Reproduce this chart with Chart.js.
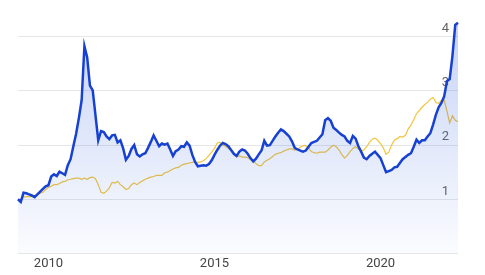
<!DOCTYPE html>
<html>
<head>
<meta charset="utf-8">
<script src="https://cdn.jsdelivr.net/npm/chart.js@4/dist/chart.umd.min.js"></script>
<style>
    html, body { margin: 0; padding: 0; background: #ffffff; }
</style>
</head>
<body>
<canvas id="priceChart" width="485" height="275"></canvas>
<script>
// Monthly points, Feb 2009 .. May 2022
var startYear = 2009;
var startMonth = 2;
var monthCount = 160;
var months = [];
for (var i = 0; i < monthCount; i++) {
    var m = startMonth - 1 + i;
    var y = startYear + Math.floor(m / 12);
    var mm = (m % 12) + 1;
    months.push(y + '-' + (mm < 10 ? '0' + mm : mm));
}

// Blue series (thick line with fill)
var blueValues = [
    1.00, 0.95, 1.12, 1.11, 1.09, 1.07, 1.04, 1.09, 1.14, 1.19, 1.24, 1.26,
    1.42, 1.46, 1.43, 1.51, 1.48, 1.45, 1.63, 1.74, 1.98, 2.21, 2.50, 2.83,
    3.83, 3.62, 3.10, 3.01, 2.55, 2.09, 2.26, 2.24, 2.16, 2.11, 2.18, 2.19,
    2.05, 2.09, 1.94, 1.73, 1.80, 1.93, 2.00, 1.83, 1.79, 1.83, 1.85, 1.95,
    2.06, 2.18, 2.08, 1.98, 2.03, 2.01, 2.03, 1.92, 1.80, 1.89, 1.92, 1.98,
    1.97, 2.05, 1.99, 1.82, 1.69, 1.61, 1.62, 1.63, 1.62, 1.65, 1.72, 1.82,
    1.91, 1.99, 2.04, 2.02, 1.98, 1.91, 1.84, 1.80, 1.88, 1.92, 1.90, 1.84,
    1.76, 1.70, 1.75, 1.83, 1.90, 2.08, 1.99, 2.00, 2.08, 2.16, 2.23, 2.29,
    2.26, 2.21, 2.16, 2.07, 1.95, 1.92, 1.90, 1.88, 1.90, 1.97, 2.04, 2.06,
    2.08, 2.14, 2.20, 2.46, 2.50, 2.45, 2.32, 2.28, 2.23, 2.19, 2.16, 2.08,
    2.04, 2.17, 2.12, 1.98, 1.88, 1.77, 1.74, 1.80, 1.84, 1.88, 1.82, 1.76,
    1.63, 1.50, 1.52, 1.54, 1.59, 1.60, 1.67, 1.74, 1.78, 1.82, 1.85, 1.97,
    2.10, 2.04, 2.09, 2.09, 2.16, 2.22, 2.38, 2.56, 2.70, 2.78, 2.90, 3.18,
    3.22, 3.65, 4.22, 4.26
];

// Gold series (thin line)
var goldValues = [
    1.00, 0.98, 1.04, 1.05, 1.05, 1.05, 1.04, 1.08, 1.11, 1.13, 1.18, 1.22,
    1.24, 1.27, 1.27, 1.29, 1.32, 1.33, 1.36, 1.37, 1.38, 1.39, 1.39, 1.37,
    1.39, 1.37, 1.40, 1.41, 1.38, 1.27, 1.13, 1.11, 1.15, 1.21, 1.31, 1.30,
    1.33, 1.27, 1.23, 1.18, 1.20, 1.27, 1.30, 1.27, 1.31, 1.34, 1.37, 1.39,
    1.41, 1.42, 1.44, 1.44, 1.44, 1.49, 1.50, 1.53, 1.56, 1.58, 1.59, 1.63,
    1.65, 1.66, 1.67, 1.68, 1.69, 1.68, 1.69, 1.71, 1.75, 1.81, 1.87, 1.94,
    2.04, 2.05, 2.00, 1.98, 1.94, 1.91, 1.82, 1.79, 1.80, 1.78, 1.78, 1.77,
    1.73, 1.71, 1.66, 1.62, 1.62, 1.69, 1.72, 1.75, 1.79, 1.83, 1.85, 1.86,
    1.89, 1.91, 1.93, 1.93, 1.91, 1.92, 1.96, 1.99, 1.99, 1.95, 1.88, 1.86,
    1.85, 1.87, 1.87, 1.87, 1.91, 1.96, 2.00, 1.97, 1.91, 1.83, 1.76, 1.81,
    1.88, 1.94, 1.97, 1.93, 1.90, 1.91, 1.97, 2.05, 2.11, 2.13, 2.09, 2.03,
    1.95, 1.83, 1.87, 2.00, 2.09, 2.12, 2.16, 2.15, 2.18, 2.30, 2.37, 2.47,
    2.58, 2.64, 2.70, 2.75, 2.79, 2.85, 2.88, 2.79, 2.77, 2.83, 2.83, 2.63,
    2.41, 2.54, 2.46, 2.43
];

var xTickLabels = ['2010', '2015', '2020'];
var yTickValues = [0, 1, 2, 3, 4];

document.addEventListener('DOMContentLoaded', function () {
    initializePriceChart();
});

function initializePriceChart() {
    var ctx = document.getElementById('priceChart').getContext('2d');

    // vertical gradient under the blue line
    function blueFill(context) {
        var chart = context.chart;
        var area = chart.chartArea;
        if (!area) return 'rgba(40, 90, 220, 0.1)';
        var g = chart.ctx.createLinearGradient(0, area.top, 0, area.bottom);
        g.addColorStop(0, 'rgba(40, 90, 220, 0.27)');
        g.addColorStop(1, 'rgba(40, 90, 220, 0.02)');
        return g;
    }

    var priceChart = new Chart(ctx, {
        type: 'line',
        data: {
            labels: months,
            datasets: [{
                label: 'Blue',
                data: blueValues,
                borderColor: '#1741d2',
                borderWidth: 2.5,
                backgroundColor: blueFill,
                fill: 'origin',
                pointRadius: 0,
                tension: 0
            }, {
                label: 'Gold',
                data: goldValues,
                borderColor: '#f1c53e',
                borderWidth: 1.2,
                fill: false,
                pointRadius: 0,
                tension: 0
            }]
        },
        options: {
            responsive: false,
            animation: false,
            layout: {
                padding: { left: 18, right: 27, top: 19, bottom: 0 }
            },
            plugins: {
                legend: { display: false },
                tooltip: { enabled: false }
            },
            scales: {
                x: {
                    grid: { display: false, drawTicks: false },
                    border: { display: false },
                    ticks: {
                        autoSkip: false,
                        maxRotation: 0,
                        padding: 3,
                        color: '#444444',
                        font: { family: 'Roboto', size: 13 },
                        callback: function (value) {
                            var lab = this.getLabelForValue(value);
                            var yr = lab.slice(0, 4);
                            if (lab.slice(5) === '01' && xTickLabels.indexOf(yr) !== -1) return yr;
                            return '';
                        }
                    }
                },
                y: {
                    position: 'right',
                    min: 0,
                    max: 4.33,
                    afterBuildTicks: function (scale) {
                        scale.ticks = yTickValues.map(function (v) { return { value: v }; });
                    },
                    afterFit: function (scale) {
                        scale.width = 0;
                    },
                    grid: { color: '#e6e6e6', drawTicks: false },
                    border: { display: false },
                    ticks: {
                        mirror: true,
                        padding: -9,
                        labelOffset: -8,
                        color: '#666666',
                        font: { family: 'Roboto', size: 13 },
                        callback: function (value) {
                            return value === 0 ? '' : String(value);
                        }
                    }
                }
            }
        }
    });
}
</script>
</body>
</html>
